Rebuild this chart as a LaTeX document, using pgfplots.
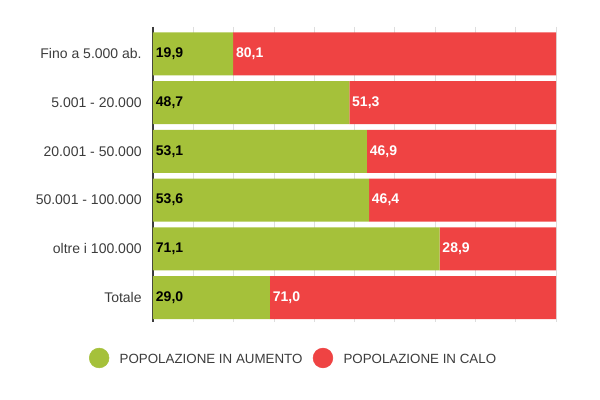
\documentclass[border=0pt]{standalone}
\usepackage{pgfplots}
\usepackage{pgfplotstable}
\pgfplotsset{compat=1.18}
\usepackage{fontspec}
\setmainfont{Liberation Sans}

\definecolor{upgreen}{RGB}{165,193,58}
\definecolor{downred}{RGB}{239,67,67}
\definecolor{labgray}{RGB}{60,60,60}
\definecolor{gridgray}{RGB}{222,222,222}

% idx: riga (0 = in alto), up = popolazione in aumento, down = in calo
\pgfplotstableread{
idx z up down
0 0 19.9 80.1
1 0 48.7 51.3
2 0 53.1 46.9
3 0 53.6 46.4
4 0 71.1 28.9
5 0 29.0 71.0
}\data

\pgfplotsset{
    frame/.style={
        at={(114.75pt,58.5pt)}, anchor=south west,
        scale only axis,
        width=302.25pt, height=221.25pt,
        xmin=0, xmax=100,
        ymin=-0.55, ymax=5.5,
        y dir=reverse,
    },
}

\begin{document}
\begin{tikzpicture}
\path (0,0) rectangle (450pt,300pt);
\begin{axis}[
    frame,
    xbar stacked,
    bar width=32.25pt,
    axis x line*=bottom,
    x axis line style={draw=none},
    axis y line*=left,
    y axis line style={draw=labgray, line width=1.2pt, -},
    xtick={0,10,...,100},
    xticklabels={},
    xmajorgrids,
    grid style={gridgray, line width=0.6pt},
    ytick={0,1,2,3,4,5},
    yticklabels={Fino a 5.000 ab., 5.001 - 20.000, 20.001 - 50.000, 50.001 - 100.000, oltre i 100.000, Totale},
    yticklabel style={font=\fontsize{10.5}{12}\selectfont, text=labgray, xshift=-5pt},
    ytick style={draw=none},
    major tick length=0pt,
    legend style={at={(0.35,-0.122)}, anchor=center, draw=none, legend columns=2,
        font=\fontsize{10}{12}\selectfont, text=labgray,
        /tikz/every odd column/.append style={column sep=6pt},
        /tikz/every even column/.append style={column sep=6pt}},
    legend cell align=left,
]
\addplot[draw=none, fill=upgreen, forget plot] table[x=up, y=idx] {\data};
\addplot[draw=none, fill=downred, forget plot] table[x=down, y=idx] {\data};

\addlegendimage{only marks, mark=*, mark size=7.4pt, color=upgreen}
\addlegendentry{POPOLAZIONE IN AUMENTO}
\addlegendimage{only marks, mark=*, mark size=7.4pt, color=downred}
\addlegendentry{POPOLAZIONE IN CALO}
\end{axis}

% etichette dei valori
\begin{axis}[
    frame,
    hide axis,
    point meta=explicit,
    nodes near coords,
    /pgf/number format/assume math mode=true,
    /pgf/number format/fixed,
    /pgf/number format/fixed zerofill,
    /pgf/number format/precision=1,
    /pgf/number format/use comma,
    every node near coord/.append style={anchor=west, font=\fontsize{10.5}{12}\selectfont\bfseries, inner sep=2pt},
]
\addplot[only marks, mark=none, every node near coord/.append style={text=black}]
    table[x=z, y=idx, meta=up] {\data};
\addplot[only marks, mark=none, every node near coord/.append style={text=white}]
    table[x=up, y=idx, meta=down] {\data};
\end{axis}
\end{tikzpicture}
\end{document}
